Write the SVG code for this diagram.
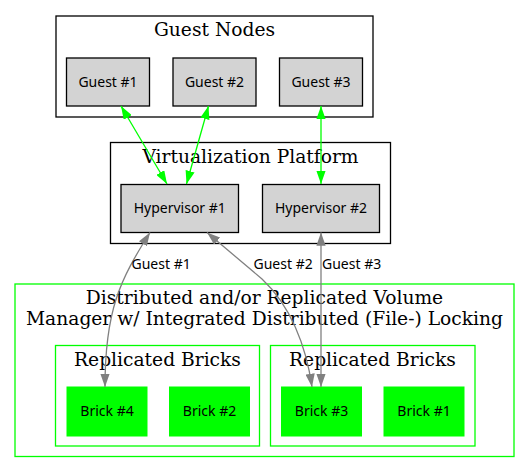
<svg xmlns="http://www.w3.org/2000/svg" width="531" height="473" viewBox="0 0 531 473">
<style>
.cl{fill:none;stroke:#000;stroke-width:1.3}
.clg{fill:none;stroke:#00ff00;stroke-width:1.3}
.nd{fill:#d3d3d3;stroke:#000;stroke-width:1.3}
.br{fill:#00ff00;stroke:#00ff00;stroke-width:1}
.t{font-family:"DejaVu Serif",serif;font-size:18.67px;text-anchor:middle;fill:#000}
.n{font-family:"Noto Sans","DejaVu Sans",sans-serif;font-size:14px;text-anchor:middle;fill:#000}
.l{font-family:"Noto Sans","DejaVu Sans",sans-serif;font-size:14px;fill:#000}
.eg{fill:none;stroke:#00ff00;stroke-width:1.3;marker-start:url(#ag);marker-end:url(#ag)}
.ey{fill:none;stroke:#808080;stroke-width:1.3;marker-start:url(#ay);marker-end:url(#ay)}
</style>
<defs>
<marker id="ag" viewBox="0 0 10 7" refX="10" refY="3.5" markerWidth="13.3" markerHeight="9.3" markerUnits="userSpaceOnUse" orient="auto-start-reverse"><path d="M0,0 L10,3.5 L0,7 z" fill="#00ff00"/></marker>
<marker id="ay" viewBox="0 0 10 7" refX="10" refY="3.5" markerWidth="13.3" markerHeight="9.3" markerUnits="userSpaceOnUse" orient="auto-start-reverse"><path d="M0,0 L10,3.5 L0,7 z" fill="#808080"/></marker>
</defs>
<rect width="531" height="473" fill="#fff"/>
<g id="cluster_guests">
<rect class="cl" x="56" y="16" width="317" height="101"/>
<text class="t" x="214.5" y="36">Guest Nodes</text>
</g>
<g id="cluster_virt">
<rect class="cl" x="110.5" y="142.5" width="280" height="101"/>
<text class="t" x="250.5" y="162.5">Virtualization Platform</text>
</g>
<g id="cluster_volume">
<rect class="clg" x="15" y="284" width="499" height="172.5"/>
<text class="t" x="264.5" y="304">Distributed and/or Replicated Volume</text>
<text class="t" x="264.5" y="324.5">Manager w/ Integrated Distributed (File-) Locking</text>
</g>
<g id="cluster_rep1">
<rect class="clg" x="55.5" y="345.5" width="204" height="100.5"/>
<text class="t" x="157.5" y="366">Replicated Bricks</text>
</g>
<g id="cluster_rep2">
<rect class="clg" x="270.5" y="345.5" width="204.5" height="100.5"/>
<text class="t" x="372.5" y="366">Replicated Bricks</text>
</g>
<g id="guest1"><rect class="nd" x="66.5" y="58" width="83" height="48"/><text class="n" x="108" y="86.5">Guest #1</text></g>
<g id="guest2"><rect class="nd" x="173" y="58" width="83" height="48"/><text class="n" x="214.5" y="86.5">Guest #2</text></g>
<g id="guest3"><rect class="nd" x="279.5" y="58" width="83" height="48"/><text class="n" x="321" y="86.5">Guest #3</text></g>
<g id="hyp1"><rect class="nd" x="121" y="184.5" width="117.5" height="48"/><text class="n" x="179.75" y="213">Hypervisor #1</text></g>
<g id="hyp2"><rect class="nd" x="262.5" y="184.5" width="117" height="48"/><text class="n" x="321" y="213">Hypervisor #2</text></g>
<g id="brick4"><rect class="br" x="67" y="387" width="80" height="49"/><text class="n" x="107" y="415.5">Brick #4</text></g>
<g id="brick2"><rect class="br" x="169.5" y="387" width="80" height="49"/><text class="n" x="209.5" y="415.5">Brick #2</text></g>
<g id="brick3"><rect class="br" x="281.5" y="387" width="80" height="49"/><text class="n" x="321.5" y="415.5">Brick #3</text></g>
<g id="brick1"><rect class="br" x="384" y="387" width="80" height="49"/><text class="n" x="424" y="415.5">Brick #1</text></g>
<g id="edges">
<path class="eg" d="M121,106 L167,184"/>
<path class="eg" d="M208.5,106 L186.5,184"/>
<path class="eg" d="M321,106 L321,184"/>
<path class="ey" d="M150,232.5 C120,280 105,310 105,387"/>
<path class="ey" d="M207,232.5 L262,279 C290,305 306,345 312,387"/>
<path class="ey" d="M321,232.5 L321,387"/>
<text class="l" x="131.5" y="269">Guest #1</text>
<text class="l" x="253.5" y="269">Guest #2</text>
<text class="l" x="322" y="269">Guest #3</text>
</g>
</svg>
